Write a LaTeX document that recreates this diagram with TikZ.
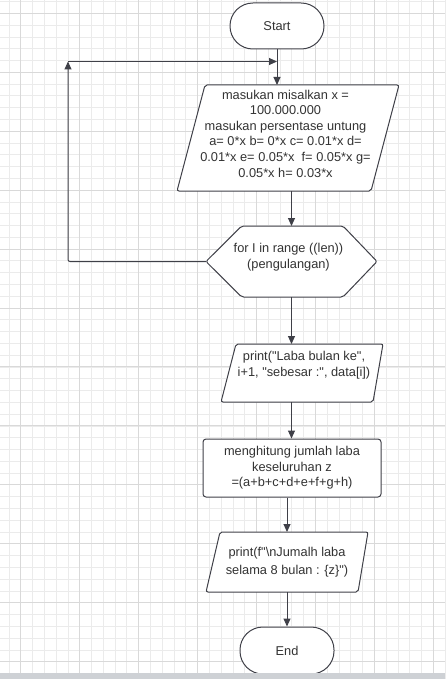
\documentclass[tikz,border=0pt]{standalone}
\usepackage{fontspec}
\setmainfont{Liberation Sans}[Ligatures=TeXOff]
\usetikzlibrary{arrows.meta}
\definecolor{gridminor}{HTML}{EBEBEB}
\definecolor{gridmajor}{HTML}{D9D9D9}
\definecolor{edge}{HTML}{3F4048}
\definecolor{ink}{HTML}{333333}
\definecolor{strip}{HTML}{CED1D5}
\begin{document}
\begin{tikzpicture}[x=1pt,y=-1pt,
  shapebox/.style={draw=edge, line width=1pt, fill=white, rounded corners=2pt},
  arr/.style={draw=edge, line width=1pt, -{Triangle[length=8pt,width=7pt]}},
  txt/.style={text=ink, font=\fontsize{12.8}{15.6}\selectfont, align=center, inner sep=0pt},
  term/.style={shapebox, txt, rounded corners=22.9pt, minimum width=94pt, minimum height=46pt},
  procbox/.style={shapebox, txt, rounded corners=3pt, minimum width=178pt, minimum height=58pt}]
\useasboundingbox (0,0) rectangle (445,679);
\fill[white] (0,0) rectangle (445,679);
% grid
\foreach \i in {-1,...,37} \draw[gridminor, line width=0.7pt] ({20.7+\i*11.788},0) -- ({20.7+\i*11.788},679);
\foreach \j in {-1,...,57} \draw[gridminor, line width=0.7pt] (0,{13.3+\j*11.788}) -- (445,{13.3+\j*11.788});
\foreach \i in {0,...,7} \draw[gridmajor, line width=0.9pt] ({20.7+\i*58.94},0) -- ({20.7+\i*58.94},679);
\foreach \j in {0,...,11} \draw[gridmajor, line width=0.9pt] (0,{13.3+\j*58.94}) -- (445,{13.3+\j*58.94});

% shapes
\node[term] (start) at (277,26) {Start};
\draw[shapebox] (205,85) -- (399,85) -- (371,191) -- (177,191) -- cycle;
\node[txt] (input) at (285.5,133.5) {masukan misalkan x =\\100.000.000\\masukan persentase untung\\a= 0*x b= 0*x c= 0.01*x d=\\0.01*x e= 0.05*x\ \ f= 0.05*x g=\\0.05*x h= 0.03*x};
\draw[shapebox] (206,261.5) -- (241.7,226) -- (343,226) -- (377,261.5) -- (343,297) -- (241.7,297) -- cycle;
\node[txt] (loop) at (288.5,257) {for I in range ((len))\\(pengulangan)};
\draw[shapebox] (236,344) -- (383,344) -- (373,402) -- (221,402) -- cycle;
\node[txt] (print1) at (304,365) {print("Laba bulan ke",\\i+1, "sebesar :", data[i])};
\node[procbox] (calc) at (292,468) {menghitung jumlah laba\\keseluruhan z\\=(a+b+c+d+e+f+g+h)};
\draw[shapebox] (220,532) -- (368,532) -- (358,592) -- (206,592) -- cycle;
\node[txt] (print2) at (287,562.5) {print(f"\textbackslash nJumalh laba\\[2.6pt]selama 8 bulan : \{z\}")};
\node[term, minimum height=47pt] (end) at (287,650.5) {End};

% connection points
\coordinate (p1top) at (277,85);
\coordinate (p1bot) at (291.5,191);
\coordinate (hextop) at (291.5,226);
\coordinate (hexW) at (206,261.5);
\coordinate (hexS) at (291.5,297);
\coordinate (loopC) at (68,61.5);
\coordinate (join) at (277,61.5);
\coordinate (pr1top) at (291.5,344);
\coordinate (pr1bot) at (291.5,402);
\coordinate (pr2top) at (287,532);
\coordinate (pr2bot) at (287,592);

% connectors
\draw[arr] (start.south) -- (p1top);
\draw[arr] (p1bot) -- (hextop);
\draw[arr, rounded corners=2pt] (hexW) -| (loopC);
\draw[arr] (loopC) -- (join);
\draw[arr] (hexS) -- (pr1top);
\draw[arr] (pr1bot) -- (pr1bot |- calc.north);
\draw[arr] (pr2top |- calc.south) -- (pr2top);
\draw[arr] (pr2bot) -- (end.north);

% bottom strip
\fill[strip] (0,673) rectangle (445,679);
\end{tikzpicture}
\end{document}
